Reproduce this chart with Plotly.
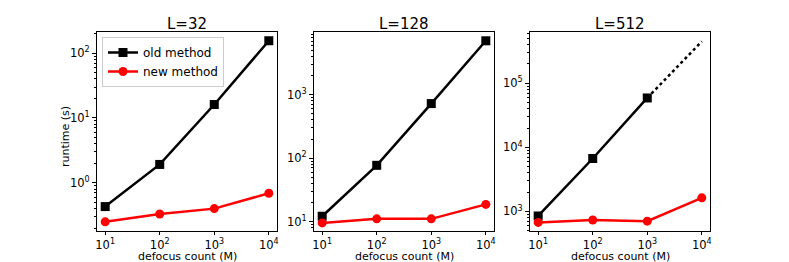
import plotly.graph_objects as go

# ---- data ----
M = [10, 100, 1000, 10000]
titles = ["L=32", "L=128", "L=512"]

old_L32 = [0.43, 1.92, 16.1, 155]
new_L32 = [0.25, 0.33, 0.40, 0.69]

old_L128 = [12.1, 77, 725, 7100]
new_L128 = [9.5, 11, 11, 18.6]

old_L512 = [850, 6700, 59000]
old_L512_extrap_x = [1000, 10000]
old_L512_extrap = [59000, 450000]
new_L512 = [675, 735, 705, 1630]

xlabel = "defocus count (M)"
ylabel = "runtime (s)"

# ---- layout geometry ----
W, H = 789, 262
panels_px = [(97, 277), (314, 494), (530, 710)]
top_px, bot_px = 32, 231
yranges = [[-0.743, 2.325], [0.85, 3.99], [2.695, 5.80]]
xrange_log = [0.85, 4.15]

FONT = "DejaVu Sans"

fig = go.Figure()

def add_series(idx, x, y, color, symbol, name, show):
    ax = "" if idx == 0 else str(idx + 1)
    fig.add_trace(go.Scatter(
        x=x, y=y, mode="lines+markers", name=name,
        line=dict(color=color, width=2.5),
        marker=dict(symbol=symbol, size=9, color=color),
        xaxis="x" + ax, yaxis="y" + ax, showlegend=show,
    ))

olds = [old_L32, old_L128, old_L512]
news = [new_L32, new_L128, new_L512]
for i in range(3):
    xo = M[:len(olds[i])]
    add_series(i, xo, olds[i], "black", "square", "old method", i == 0)
    add_series(i, M, news[i], "red", "circle", "new method", i == 0)

fig.add_trace(go.Scatter(
    x=old_L512_extrap_x, y=old_L512_extrap, mode="lines",
    line=dict(color="black", width=2.5, dash="dot"),
    xaxis="x3", yaxis="y3", showlegend=False,
))

minor_vals = [k * 10 ** n for n in range(-2, 7) for k in range(2, 10)]
major_vals = [10 ** n for n in range(-1, 7)]
major_text = ["10<sup>%d</sup>" % n for n in range(-1, 7)]

ydom = [1 - bot_px / H, 1 - top_px / H]
for i, (l, r) in enumerate(panels_px):
    ax = "" if i == 0 else str(i + 1)
    fig.layout["xaxis" + ax] = dict(
        type="log", domain=[l / W, r / W], range=xrange_log,
        anchor="y" + ax, showgrid=False, zeroline=False, automargin=False,
        showline=True, linecolor="black", linewidth=1, mirror=True,
        ticks="outside", ticklen=3, tickcolor="black",
        tickmode="array", tickvals=[10, 100, 1000, 10000],
        ticktext=["10<sup>1</sup>", "10<sup>2</sup>", "10<sup>3</sup>", "10<sup>4</sup>"],
        tickfont=dict(family=FONT, size=11.5, color="black"),
    )
    fig.layout["yaxis" + ax] = dict(
        type="log", domain=ydom, range=yranges[i],
        anchor="x" + ax, showgrid=False, zeroline=False, automargin=False,
        showline=True, linecolor="black", linewidth=1, mirror=True,
        ticks="outside", ticklen=4, tickcolor="black",
        tickmode="array", tickvals=major_vals, ticktext=major_text,
        tickfont=dict(family=FONT, size=11.5, color="black"),
        minor=dict(ticks="outside", ticklen=2, tickcolor="black",
                   tickmode="array", tickvals=minor_vals, showgrid=False),
    )
    fig.add_annotation(
        text=titles[i], xref="paper", yref="paper",
        x=(l + r) / 2 / W, y=1 - 24 / H, showarrow=False,
        xanchor="center", yanchor="middle",
        font=dict(family=FONT, size=15, color="black"),
    )
    fig.add_annotation(
        text=xlabel, xref="paper", yref="paper",
        x=(l + r) / 2 / W, y=1 - 256.5 / H, showarrow=False,
        xanchor="center", yanchor="middle",
        font=dict(family=FONT, size=11, color="black"),
    )

fig.add_annotation(
    text=ylabel, xref="paper", yref="paper",
    x=65 / W, y=1 - 137 / H, showarrow=False, textangle=-90,
    xanchor="center", yanchor="middle",
    font=dict(family=FONT, size=11, color="black"),
)

fig.update_layout(
    width=W, height=H,
    margin=dict(l=0, r=0, t=0, b=0, autoexpand=False),
    paper_bgcolor="white", plot_bgcolor="white",
    showlegend=True,
    legend=dict(
        x=102 / W, y=1 - 37 / H, xanchor="left", yanchor="top",
        bgcolor="rgba(255,255,255,0.8)", bordercolor="#cccccc", borderwidth=1,
        font=dict(family=FONT, size=12, color="black"),
        itemwidth=30, tracegroupgap=0,
    ),
)

fig.write_html("out.html", config={"displayModeBar": False},
               post_script="document.body.style.margin='0';")
